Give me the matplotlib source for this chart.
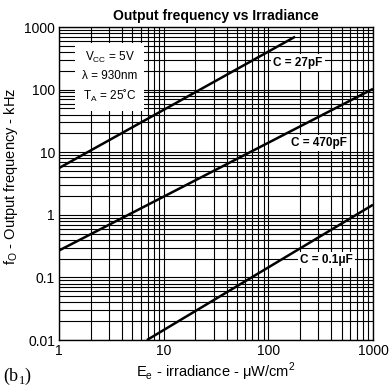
import numpy as np
import matplotlib
matplotlib.use("Agg")
import matplotlib.pyplot as plt

plt.rcParams['font.family'] = ['Liberation Sans', 'DejaVu Sans']

# curve end points (irradiance uW/cm2, frequency kHz)
c27_x = [1, 180]
c27_y = [5.6, 700]
c470_x = [1, 1000]
c470_y = [0.27, 103]
c01_x = [6.9, 1000]
c01_y = [0.01, 1.45]

labels = ["C = 27pF", "C = 470pF", "C = 0.1\u03bcF"]
label_pos = [(111, 270), (164, 14), (200, 0.19)]

fig = plt.figure(figsize=(3.89, 3.86), dpi=100)
ax = fig.add_axes([0.152, 0.119, 0.807, 0.811])

ax.set_xscale("log")
ax.set_yscale("log")
ax.set_xlim(1, 1000)
ax.set_ylim(0.01, 1000)

ax.grid(True, which="both", color="black", linewidth=0.8)
ax.set_axisbelow(True)

for xs, ys in [(c27_x, c27_y), (c470_x, c470_y), (c01_x, c01_y)]:
    ax.plot(xs, ys, color="black", linewidth=1.8, solid_capstyle="butt")

for lab, (px, py) in zip(labels, label_pos):
    ax.text(px, py, lab, fontsize=8.5, fontweight="bold", ha="left", va="center",
            bbox=dict(facecolor="white", edgecolor="none", pad=1.5))

ax.text(3.05, 160, "V$_\\mathregular{CC}$ = 5V\n\u03bb = 930nm\nT$_\\mathregular{A}$ = 25\u02daC",
        fontsize=8.5, ha="center", va="center", linespacing=1.55,
        bbox=dict(facecolor="white", edgecolor="none", pad=5), zorder=3)

xt = [1, 10, 100, 1000]
yt = [0.01, 0.1, 1, 10, 100, 1000]
ax.set_xticks(xt)
ax.set_xticklabels(["1", "10", "100", "1000"])
ax.set_yticks(yt)
ax.set_yticklabels(["0.01", "0.1", "1", "10", "100", "1000"])
ax.tick_params(which="both", length=0, labelsize=10, pad=3)

for s in ax.spines.values():
    s.set_linewidth(1.0)

ax.set_title("Output frequency vs Irradiance", fontsize=10, fontweight="bold", pad=5)
ax.set_xlabel("E$_\\mathregular{e}$ - irradiance - \u03bcW/cm$^\\mathregular{2}$", fontsize=10.5, labelpad=2)
ax.set_ylabel("f$_\\mathregular{O}$ - Output frequency - kHz", fontsize=10.5)
ax.yaxis.set_label_coords(-0.125, 0.524)

fig.text(0.008, 0.012, "(b$_\\mathregular{1}$)", fontsize=13, family="Liberation Serif")

fig.savefig("out.png", dpi=100)
